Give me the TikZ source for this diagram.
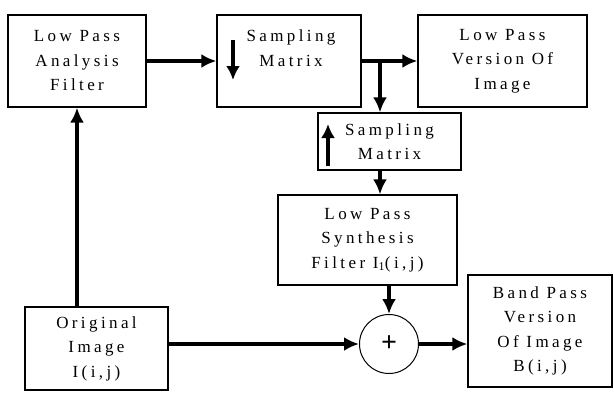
\documentclass[tikz,border=0pt]{standalone}
\usepackage{fontspec}
\setmainfont{Liberation Serif}[LetterSpace=20]
\newfontfamily\plainfont{Liberation Serif}
\usetikzlibrary{arrows.meta}

\begin{document}
\begin{tikzpicture}[x=1pt, y=-1pt,
    blk/.style={draw, line width=1.3pt, align=center, inner sep=0pt,
                font=\fontsize{17}{24.5}\selectfont},
    txt/.style={align=center, inner sep=0pt, font=\fontsize{17}{24.5}\selectfont},
    flow/.style={line width=3.6pt, -{Latex[length=15pt, width=14pt]}},
    samparrow/.style={line width=3.6pt, -{Latex[length=14pt, width=14pt]}}]
  \useasboundingbox (0,0) rectangle (614,392);
  %--- top row ---
  \node[blk, minimum width=138pt, minimum height=92pt] (lpaf) at (77,61)
    {Low Pass\\Analysis\\Filter};
  \node[blk, minimum width=144pt, minimum height=92pt] (down) at (289,61) {};
  \node[txt] (downtxt) at (291,48) {Sampling\\Matrix};
  \node[blk, minimum width=169pt, minimum height=92pt] (lpv) at (502.5,61)
    {Low Pass\\Version Of\\Image};
  %--- middle column ---
  \node[blk, minimum width=143pt, minimum height=57pt] (up) at (389.5,141.5)
    {Sampling\\Matrix};
  \node[blk, minimum width=179pt, minimum height=90pt] (lps) at (367.5,240)
    {Low Pass\\Synthesis\\Filter I\textsubscript{1}(i,j)};
  %--- bottom row ---
  \node[blk, minimum width=143pt, minimum height=83pt] (orig) at (96.5,348.5)
    {Original\\Image\\I(i,j)};
  \node[draw, circle, line width=1pt, minimum size=59pt, inner sep=0pt,
        font=\plainfont\bfseries\fontsize{28}{28}\selectfont] (sum) at (389,344) {+};
  \node[blk, minimum width=144pt, minimum height=112pt] (bpv) at (540,331)
    {Band Pass\\Version\\Of Image\\B(i,j)};
  % sampling marks
  \draw[samparrow] (233,40) -- (233,80);
  \draw[samparrow] (328,166) -- (328,124);
  %--- connectors ---
  \coordinate (split) at (380,61);
  \draw[flow] (lpaf.east |- down.west) -- (down.west);
  \draw[flow] (down.east) -- (lpv.west);
  \draw[flow] (split) -- (split |- up.north);
  \draw[flow] (split |- up.south) -- (split |- lps.north);
  \draw[flow] (lps.south -| sum.north) -- (sum.north);
  \draw[flow] (orig.east |- sum.west) -- (sum.west);
  \draw[flow] (sum.east) -- (sum.east -| bpv.west);
  \draw[flow, line width=4.2pt] (orig.north -| lpaf.south) -- (lpaf.south);
\end{tikzpicture}
\end{document}
